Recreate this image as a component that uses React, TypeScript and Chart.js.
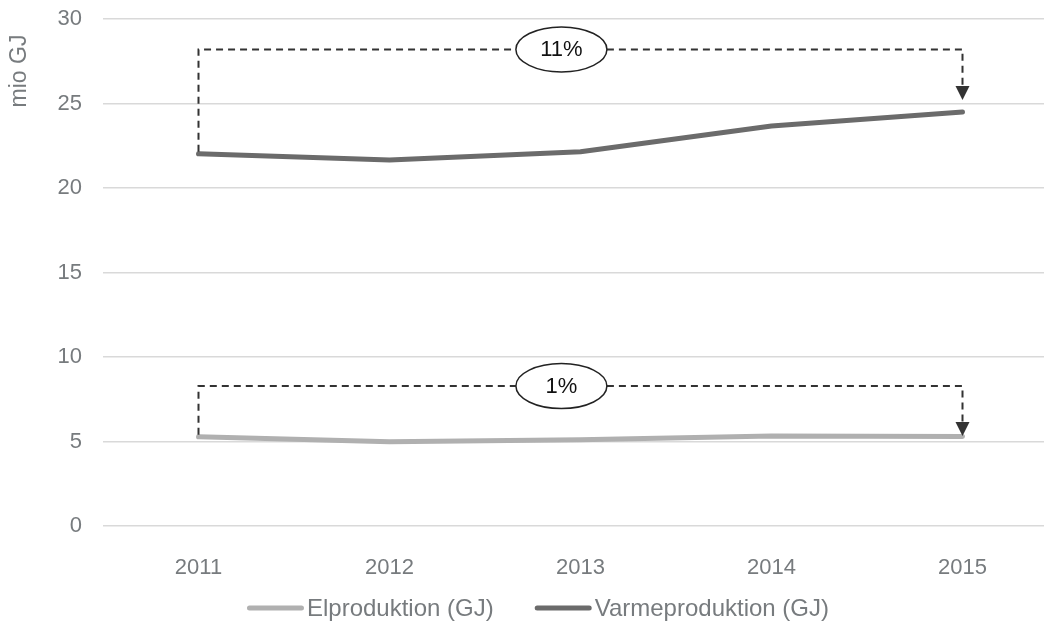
import React, { useEffect, useRef } from "react";
import { Chart, registerables } from "chart.js";

Chart.register(...registerables);

const years = ["2011", "2012", "2013", "2014", "2015"];
const elValues = [5.28, 4.98, 5.1, 5.33, 5.3];
const varmeValues = [22.02, 21.66, 22.14, 23.67, 24.5];
const seriesNames = ["Elproduktion (GJ)", "Varmeproduktion (GJ)"];
const seriesColors = ["#b0b0b0", "#6b6b6b"];
const yTicks = [0, 5, 10, 15, 20, 25, 30];
const yTitle = "mio GJ";
const changeLabels = ["1%", "11%"];
const bracketLevels = [8.28, 28.2];
const arrowTips = [5.32, 25.2];

const TEXT_FONT = "'Liberation Sans', Arial, sans-serif";
const TEXT_COLOR = "#777b7e";

export default function App() {
  const ref = useRef<HTMLCanvasElement | null>(null);

  useEffect(() => {
    document.body.style.margin = "0";
    document.body.style.overflow = "hidden";
    const canvas = ref.current!;
    const seriesData = [elValues, varmeValues];

    const overlay = {
      id: "overlay",
      afterDatasetsDraw(chart: any) {
        const ctx = chart.ctx;
        const xs = chart.scales.x;
        const ys = chart.scales.y;
        const x0 = xs.getPixelForValue(0);
        const x1 = xs.getPixelForValue(years.length - 1);
        const cx = x0 + (x1 - x0) * 0.475;
        const rx = 45.5;
        const ry = 22.5;
        for (let i = 0; i < changeLabels.length; i++) {
          const d = seriesData[i];
          const yStart = ys.getPixelForValue(d[0]);
          const yTop = ys.getPixelForValue(bracketLevels[i]);
          const yTip = ys.getPixelForValue(arrowTips[i]);
          const ah = 14;
          const aw = 7;
          ctx.save();
          ctx.strokeStyle = "#333333";
          ctx.lineWidth = 2;
          ctx.setLineDash([7, 5]);
          ctx.beginPath();
          ctx.moveTo(x0, yStart - 2);
          ctx.lineTo(x0, yTop);
          ctx.lineTo(cx - rx, yTop);
          ctx.moveTo(cx + rx, yTop);
          ctx.lineTo(x1, yTop);
          ctx.lineTo(x1, yTip - ah);
          ctx.stroke();
          ctx.setLineDash([]);
          ctx.fillStyle = "#333333";
          ctx.beginPath();
          ctx.moveTo(x1 - aw, yTip - ah);
          ctx.lineTo(x1 + aw, yTip - ah);
          ctx.lineTo(x1, yTip);
          ctx.closePath();
          ctx.fill();
          ctx.beginPath();
          ctx.ellipse(cx, yTop, rx, ry, 0, 0, Math.PI * 2);
          ctx.fillStyle = "#ffffff";
          ctx.fill();
          ctx.lineWidth = 1.5;
          ctx.strokeStyle = "#222222";
          ctx.stroke();
          ctx.fillStyle = "#111111";
          ctx.font = "22px 'Liberation Sans', Arial, sans-serif";
          ctx.textAlign = "center";
          ctx.textBaseline = "middle";
          ctx.fillText(changeLabels[i], cx, yTop + 1);
          ctx.restore();
        }
      },
      afterDraw(chart: any) {
        const ctx = chart.ctx;
        ctx.save();
        ctx.font = "23px " + TEXT_FONT;
        ctx.fillStyle = TEXT_COLOR;
        ctx.translate(20, 71);
        ctx.rotate(-Math.PI / 2);
        ctx.textAlign = "center";
        ctx.textBaseline = "middle";
        ctx.fillText(yTitle, 0, 0);
        ctx.restore();

        ctx.save();
        ctx.font = "24px " + TEXT_FONT;
        const lineW = 57;
        const gap = 3;
        const itemGap = 41;
        const widths = seriesNames.map((n) => ctx.measureText(n).width);
        const total = widths.reduce((a, w) => a + lineW + gap + w, 0) + itemGap;
        let x = 538 - total / 2;
        const y = 608;
        for (let i = 0; i < seriesNames.length; i++) {
          ctx.strokeStyle = seriesColors[i];
          ctx.lineWidth = 5;
          ctx.lineCap = "round";
          ctx.beginPath();
          ctx.moveTo(x + 2.5, y);
          ctx.lineTo(x + lineW - 2.5, y);
          ctx.stroke();
          ctx.fillStyle = TEXT_COLOR;
          ctx.textAlign = "left";
          ctx.textBaseline = "middle";
          ctx.fillText(seriesNames[i], x + lineW + gap, y + 1);
          x += lineW + gap + widths[i] + itemGap;
        }
        ctx.restore();
      },
    };

    const chart = new Chart(canvas, {
      type: "line",
      data: {
        labels: years,
        datasets: seriesNames.map((name, i) => ({
          label: name,
          data: seriesData[i],
          borderColor: seriesColors[i],
          backgroundColor: seriesColors[i],
          borderWidth: 5,
          borderCapStyle: "round" as const,
          borderJoinStyle: "round" as const,
          pointRadius: 0,
          pointHoverRadius: 0,
          tension: 0,
          fill: false,
        })),
      },
      options: {
        animation: false,
        responsive: false,
        maintainAspectRatio: false,
        events: [],
        layout: { padding: { top: 19, right: 2, left: 0, bottom: 0 } },
        plugins: {
          legend: { display: false },
          tooltip: { enabled: false },
          title: { display: false },
        },
        scales: {
          x: {
            offset: true,
            grid: { display: false, drawTicks: false },
            border: { display: false },
            ticks: {
              color: TEXT_COLOR,
              font: { family: TEXT_FONT, size: 22 },
              padding: 29,
              maxRotation: 0,
            },
            afterFit(scale: any) {
              scale.height = 103;
              scale.paddingLeft = 0;
              scale.paddingRight = 0;
            },
          },
          y: {
            min: 0,
            max: 30,
            afterBuildTicks(scale: any) {
              scale.ticks = yTicks.map((v) => ({ value: v }));
            },
            grid: { color: "#d9d9d9", lineWidth: 1.5, drawTicks: false },
            border: { display: false },
            ticks: {
              color: TEXT_COLOR,
              font: { family: TEXT_FONT, size: 22 },
              padding: 21,
            },
            afterFit(scale: any) {
              scale.width = 103;
              scale.paddingTop = 0;
              scale.paddingBottom = 0;
            },
          },
        },
      },
      plugins: [overlay],
    });
    return () => chart.destroy();
  }, []);

  return (
    <canvas
      ref={ref}
      width={1060}
      height={629}
      style={{ position: "absolute", left: 0, top: 0, width: 1060, height: 629 }}
    />
  );
}
